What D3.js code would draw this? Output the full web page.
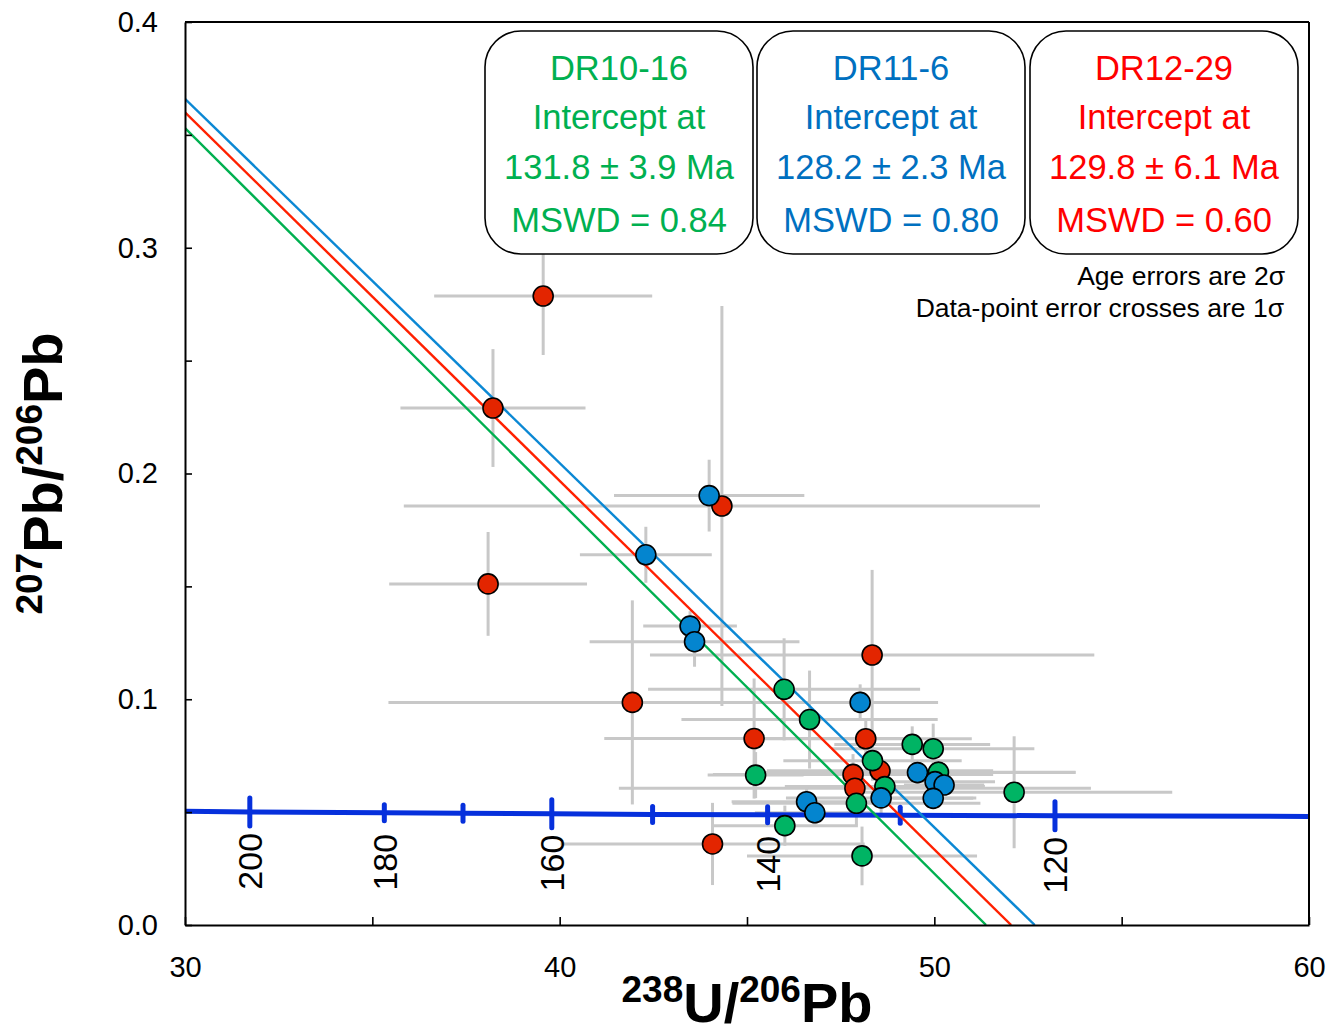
<!DOCTYPE html>
<html>
<head>
<meta charset="utf-8">
<script src="https://cdnjs.cloudflare.com/ajax/libs/d3/7.8.5/d3.min.js"></script>
<style>
  body { margin: 0; background: #fff; }
  svg { font-family: "Liberation Sans", Arial, sans-serif; }
  .err { stroke: #c8c8c8; stroke-width: 3px; }
  .dot { stroke: #000; stroke-width: 1.6px; }
  .box { fill: #fff; stroke: #000; stroke-width: 1.6px; }
</style>
</head>
<body>
<svg width="1329" height="1034"></svg>
<script>
// DR12-29 (red)
var redU     = [39.56, 38.22, 38.09, 44.33, 41.94, 45.19, 44.08, 48.34, 48.17, 48.55, 47.83, 47.88];
var redPb    = [0.2786, 0.2290, 0.1511, 0.1856, 0.0986, 0.0826, 0.0359, 0.1196, 0.0825, 0.0683, 0.0667, 0.0606];
var redUErr  = [2.91, 2.47, 2.64, 8.49, 6.51, 4.00, 4.06, 5.93, 2.83, 3.02, 3.74, 6.30];
var redPbErr = [0.0261, 0.0261, 0.0230, 0.0886, 0.0452, 0.0266, 0.0182, 0.0377, 0.0090, 0.0066, 0.0090, 0.0066];

// DR10-16 (green)
var greenU     = [45.99, 46.67, 45.23, 46.01, 48.07, 48.35, 48.68, 47.92, 49.41, 49.97, 50.11, 52.13];
var greenPb    = [0.1044, 0.0910, 0.0664, 0.0440, 0.0306, 0.0728, 0.0613, 0.0539, 0.0800, 0.0781, 0.0677, 0.0588];
var greenUErr  = [3.63, 3.42, 1.28, 1.95, 3.07, 2.38, 2.67, 3.31, 2.08, 2.70, 3.66, 4.22];
var greenPbErr = [0.0226, 0.0217, 0.0102, 0.0089, 0.0130, 0.0089, 0.0066, 0.0097, 0.0080, 0.0111, 0.0053, 0.0248];

// DR11-6 (blue)
var blueU     = [43.99, 42.30, 43.48, 43.60, 48.02, 49.55, 50.02, 50.26, 49.97, 48.58, 46.59, 46.81];
var bluePb    = [0.1902, 0.1640, 0.1324, 0.1255, 0.0986, 0.0675, 0.0635, 0.0620, 0.0561, 0.0563, 0.0546, 0.0497];
var blueUErr  = [2.54, 1.76, 1.25, 2.80, 2.08, 4.22, 1.60, 1.07, 1.07, 2.54, 2.00, 1.60];
var bluePbErr = [0.0159, 0.0124, 0.0066, 0.0111, 0.0080, 0.0053, 0.0044, 0.0044, 0.0044, 0.0080, 0.0066, 0.0053];

// discordia lines: 207/206 at U/Pb = 30, and lower intercept on the x axis
var lineNames  = ["DR10-16", "DR12-29", "DR11-6"];
var lineTopPb  = [0.353, 0.360, 0.366];
var lineBottomU = [51.38, 52.05, 52.68];

// concordia (Tera-Wasserburg)
var concordiaAge = [211, 200, 180, 170, 160, 150, 140, 130, 120, 107];
var concordiaU   = [30.0, 31.73, 35.32, 37.42, 39.79, 42.48, 45.55, 49.09, 53.22, 60.0];
var concordiaPb  = [0.0504, 0.0501, 0.0497, 0.0495, 0.0493, 0.0490, 0.0488, 0.0486, 0.0484, 0.0481];
var ageTicks  = [200, 180, 170, 160, 150, 140, 130, 120];
var ageMajor  = [200, 160, 120];
var ageLabels = [200, 180, 160, 140, 120];

// boxes
var boxTitles = ["DR10-16", "DR11-6", "DR12-29"];
var boxAges   = ["131.8 ± 3.9 Ma", "128.2 ± 2.3 Ma", "129.8 ± 6.1 Ma"];
var boxMswd   = ["MSWD = 0.84", "MSWD = 0.80", "MSWD = 0.60"];

var xTicks = [30, 35, 40, 45, 50, 55, 60];
var xLabels = [30, 40, 50, 60];
var yTicks = [0, 0.05, 0.1, 0.15, 0.2, 0.25, 0.3, 0.35, 0.4];
var yLabels = [0, 0.1, 0.2, 0.3, 0.4];

var colors = {
  green: {dot: "#00b464", line: "#00b050", text: "#00b050"},
  blue:  {dot: "#0485cf", line: "#0b88d4", text: "#0070c0"},
  red:   {dot: "#e32500", line: "#ff2000", text: "#ff0000"}
};

var svg = d3.select("svg");
var margin = {left: 185, top: 22, right: 1309, bottom: 925};

var x = d3.scaleLinear().domain([30, 60]).range([margin.left, margin.right]);
var y = d3.scaleLinear().domain([0, 0.4]).range([margin.bottom, margin.top]);

svg.append("defs").append("clipPath").attr("id", "plot")
  .append("rect")
  .attr("x", margin.left).attr("y", margin.top)
  .attr("width", margin.right - margin.left).attr("height", margin.bottom - margin.top);

function pack(us, pbs, ue, pe) {
  return us.map(function(u, i){ return {u: u, pb: pbs[i], su: ue[i], spb: pe[i]}; });
}
var sets = [
  {key: "red",   pts: pack(redU, redPb, redUErr, redPbErr)},
  {key: "green", pts: pack(greenU, greenPb, greenUErr, greenPbErr)},
  {key: "blue",  pts: pack(blueU, bluePb, blueUErr, bluePbErr)}
];

// error crosses
var errG = svg.append("g").attr("clip-path", "url(#plot)");
sets.forEach(function(s){
  errG.selectAll(null).data(s.pts).enter().append("line")
    .attr("class", "err")
    .attr("x1", function(d){ return x(d.u - d.su); })
    .attr("x2", function(d){ return x(d.u + d.su); })
    .attr("y1", function(d){ return y(d.pb); })
    .attr("y2", function(d){ return y(d.pb); });
  errG.selectAll(null).data(s.pts).enter().append("line")
    .attr("class", "err")
    .attr("x1", function(d){ return x(d.u); })
    .attr("x2", function(d){ return x(d.u); })
    .attr("y1", function(d){ return y(d.pb - d.spb); })
    .attr("y2", function(d){ return y(d.pb + d.spb); });
});

// concordia
var conc = concordiaAge.map(function(a, i){ return {age: a, u: concordiaU[i], pb: concordiaPb[i]}; });
var concLine = d3.line().x(function(d){ return x(d.u); }).y(function(d){ return y(d.pb); });
svg.append("path").datum(conc)
  .attr("d", concLine)
  .attr("fill", "none")
  .attr("stroke", "#0630dc")
  .attr("stroke-width", 5);

var concByAge = {};
conc.forEach(function(d){ concByAge[d.age] = d; });
svg.selectAll(".ageTick").data(ageTicks).enter().append("line")
  .attr("class", "ageTick")
  .attr("x1", function(a){ return x(concByAge[a].u); })
  .attr("x2", function(a){ return x(concByAge[a].u); })
  .attr("y1", function(a){ return y(concByAge[a].pb) - (ageMajor.indexOf(a) >= 0 ? 14 : 8); })
  .attr("y2", function(a){ return y(concByAge[a].pb) + (ageMajor.indexOf(a) >= 0 ? 14 : 8); })
  .attr("stroke", "#0630dc")
  .attr("stroke-width", 5)
  .attr("stroke-linecap", "round");

svg.selectAll(".ageLabel").data(ageLabels).enter().append("text")
  .attr("class", "ageLabel")
  .attr("transform", function(a){ return "translate(" + x(concByAge[a].u) + "," + (y(concByAge[a].pb) + 21) + ") rotate(-90)"; })
  .attr("text-anchor", "end")
  .attr("dy", "0.36em")
  .attr("font-size", 34)
  .text(function(a){ return a; });

// discordia lines
var lineKeys = ["green", "red", "blue"];
var discG = svg.append("g").attr("clip-path", "url(#plot)");
lineKeys.forEach(function(k, i){
  discG.append("line")
    .attr("x1", x(30)).attr("y1", y(lineTopPb[i]))
    .attr("x2", x(lineBottomU[i])).attr("y2", y(0))
    .attr("stroke", colors[k].line)
    .attr("stroke-width", 2.4);
});

// data points
sets.forEach(function(s){
  svg.append("g").selectAll("circle").data(s.pts).enter().append("circle")
    .attr("class", "dot")
    .attr("cx", function(d){ return x(d.u); })
    .attr("cy", function(d){ return y(d.pb); })
    .attr("r", 10)
    .attr("fill", colors[s.key].dot);
});

// axes
var yAxis = d3.axisLeft(y).tickValues(yTicks).tickSizeInner(-7).tickSizeOuter(0).tickPadding(27)
  .tickFormat(function(v){ return yLabels.some(function(l){ return Math.abs(l - v) < 1e-9; }) ? d3.format(".1f")(v) : ""; });
var gy = svg.append("g").attr("transform", "translate(" + margin.left + ",0)").call(yAxis);
gy.attr("font-size", 29).attr("font-family", null);

var xAxis = d3.axisBottom(x).tickValues(xTicks).tickSizeInner(-8).tickSizeOuter(0).tickPadding(31)
  .tickFormat(function(v){ return xLabels.indexOf(v) >= 0 ? v : ""; });
var gx = svg.append("g").attr("transform", "translate(0," + margin.bottom + ")").call(xAxis);
gx.attr("font-size", 29).attr("font-family", null);

[gx, gy].forEach(function(g){
  g.select(".domain").attr("stroke-width", 2);
  g.selectAll(".tick line").attr("stroke-width", 1.6);
  g.selectAll(".tick text").attr("fill", "#000");
});

svg.append("line").attr("x1", margin.right).attr("x2", margin.right)
  .attr("y1", margin.top).attr("y2", margin.bottom)
  .attr("stroke", "#000").attr("stroke-width", 2);
svg.append("line").attr("x1", margin.left).attr("x2", margin.right)
  .attr("y1", margin.top).attr("y2", margin.top)
  .attr("stroke", "#000").attr("stroke-width", 2);

// result boxes
var boxKeys = ["green", "blue", "red"];
var boxX = [485, 757, 1030];
var boxW = 268, boxTop = 31, boxH = 223;
boxKeys.forEach(function(k, i){
  var g = svg.append("g");
  g.append("rect").attr("class", "box")
    .attr("x", boxX[i]).attr("y", boxTop)
    .attr("width", boxW).attr("height", boxH)
    .attr("rx", 36).attr("ry", 36);
  var cx = boxX[i] + boxW / 2;
  var lines = [boxTitles[i], "Intercept at", boxAges[i], boxMswd[i]];
  var base = [80, 129, 179, 232];
  lines.forEach(function(t, j){
    g.append("text")
      .attr("x", cx).attr("y", base[j])
      .attr("text-anchor", "middle")
      .attr("font-size", 34.5)
      .attr("fill", colors[k].text)
      .text(t);
  });
});

svg.append("text").attr("x", 1285).attr("y", 285)
  .attr("text-anchor", "end").attr("font-size", 26.5).text("Age errors are 2σ");
svg.append("text").attr("x", 1284).attr("y", 317)
  .attr("text-anchor", "end").attr("font-size", 26.5).text("Data-point error crosses are 1σ");

// axis titles
var xt = svg.append("text").attr("x", (margin.left + margin.right) / 2).attr("y", 1022)
  .attr("text-anchor", "middle").attr("font-weight", "bold").attr("font-size", 56);
xt.append("tspan").attr("font-size", 37).attr("dy", -20).text("238");
xt.append("tspan").attr("dy", 20).text("U/");
xt.append("tspan").attr("font-size", 37).attr("dy", -20).text("206");
xt.append("tspan").attr("dy", 20).text("Pb");

var yt = svg.append("text")
  .attr("transform", "translate(62," + (margin.top + margin.bottom) / 2 + ") rotate(-90)")
  .attr("text-anchor", "middle").attr("font-weight", "bold").attr("font-size", 56);
yt.append("tspan").attr("font-size", 37).attr("dy", -20).text("207");
yt.append("tspan").attr("dy", 20).text("Pb/");
yt.append("tspan").attr("font-size", 37).attr("dy", -20).text("206");
yt.append("tspan").attr("dy", 20).text("Pb");
</script>
</body>
</html>
